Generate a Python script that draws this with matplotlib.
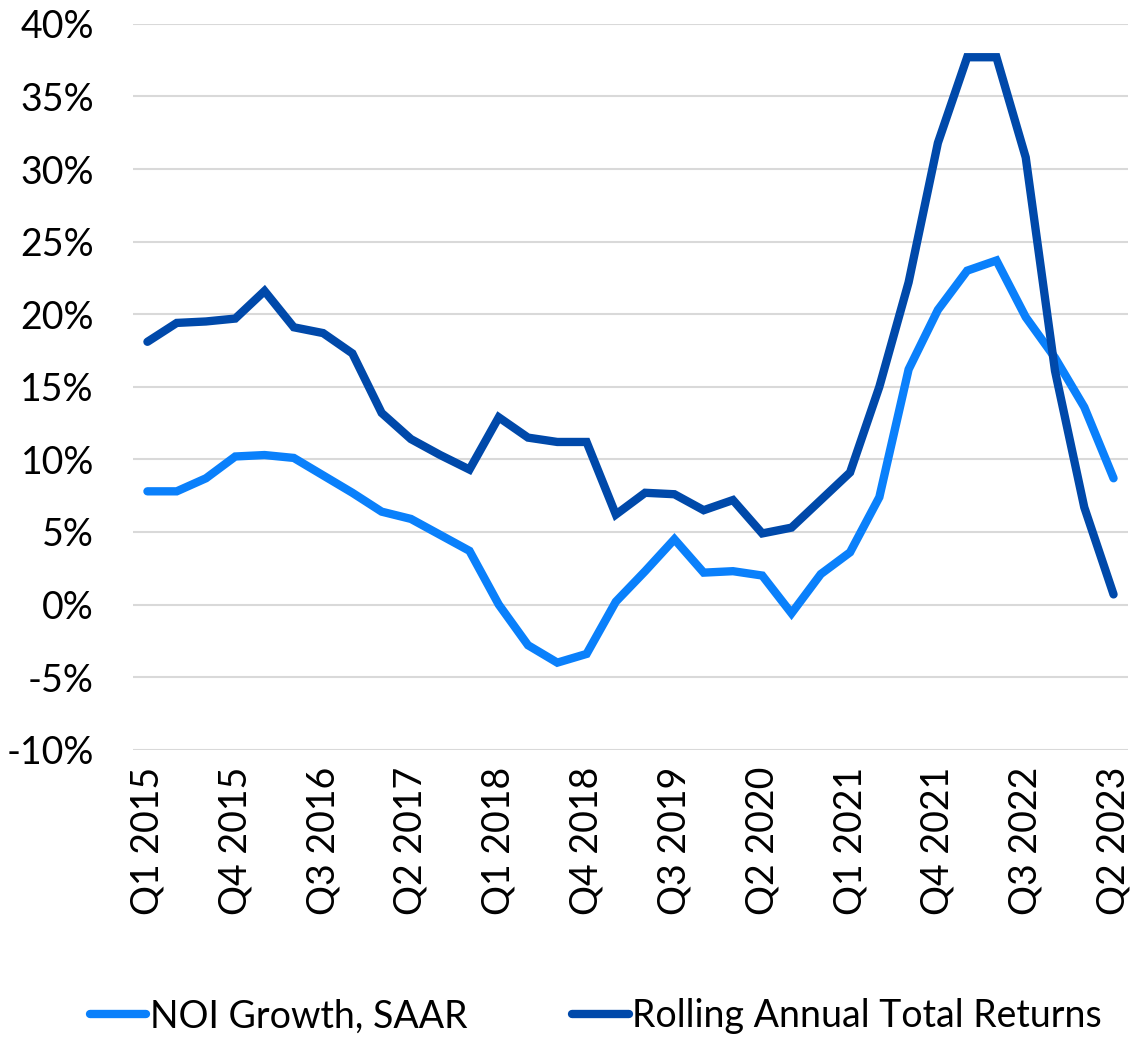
import numpy as np
import matplotlib
matplotlib.use('Agg')
import matplotlib.pyplot as plt
from matplotlib.ticker import FuncFormatter

plt.rcParams['font.family'] = ['Lato', 'DejaVu Sans']

# quarters Q1 2015 .. Q2 2023
quarters = []
for yr in range(2015, 2024):
    for q in range(1, 5):
        quarters.append(f'Q{q} {yr}')
quarters = quarters[:34]

noi_growth = [7.8, 7.8, 8.7, 10.2, 10.3, 10.1, 8.9, 7.7, 6.4, 5.9, 4.8, 3.7,
              0.0, -2.8, -4.0, -3.4, 0.2, 2.3, 4.5, 2.2, 2.3, 2.0, -0.6, 2.1,
              3.6, 7.4, 16.2, 20.3, 23.0, 23.7, 19.8, 17.0, 13.6, 8.7]
total_returns = [18.1, 19.4, 19.5, 19.7, 21.6, 19.1, 18.7, 17.3, 13.2, 11.4, 10.3, 9.3,
                 12.9, 11.5, 11.2, 11.2, 6.2, 7.7, 7.6, 6.5, 7.2, 4.9, 5.3, 7.2,
                 9.1, 15.0, 22.2, 31.8, 37.7, 37.7, 30.8, 16.1, 6.7, 0.7]

light = '#0a80fb'
dark = '#0049aa'

fig = plt.figure(figsize=(11.35, 10.37), dpi=100)
ax = fig.add_axes([0.117, 0.277, 0.877, 0.700])

x = np.arange(len(quarters))
ax.plot(x, noi_growth, color=light, lw=6, solid_capstyle='round', solid_joinstyle='miter',
        label='NOI Growth, SAAR', zorder=3)
ax.plot(x, total_returns, color=dark, lw=6, solid_capstyle='round', solid_joinstyle='miter',
        label='Rolling Annual Total Returns', zorder=3)

ax.set_xlim(-0.5, len(quarters) - 0.5)
ax.set_ylim(-10, 40)
ax.set_yticks(np.arange(-10, 41, 5))
ax.yaxis.set_major_formatter(FuncFormatter(lambda v, p: f'{v:.0f}%'))
ax.set_xticks(x[::3])
ax.set_xticklabels(quarters[::3], rotation=90)
ax.tick_params(axis='both', length=0, labelsize=27, colors='black')
ax.tick_params(axis='x', pad=12)
ax.tick_params(axis='y', pad=28)
ax.grid(axis='y', color='#d9d9d9', lw=1.5)
ax.set_axisbelow(True)
for s in ax.spines.values():
    s.set_visible(False)

fig.legend(loc='lower center', bbox_to_anchor=(0.525, -0.03), ncol=2, frameon=False,
           fontsize=27, handlelength=1.5, handletextpad=0.1, columnspacing=2.8)

fig.savefig('out.png', dpi=100)
